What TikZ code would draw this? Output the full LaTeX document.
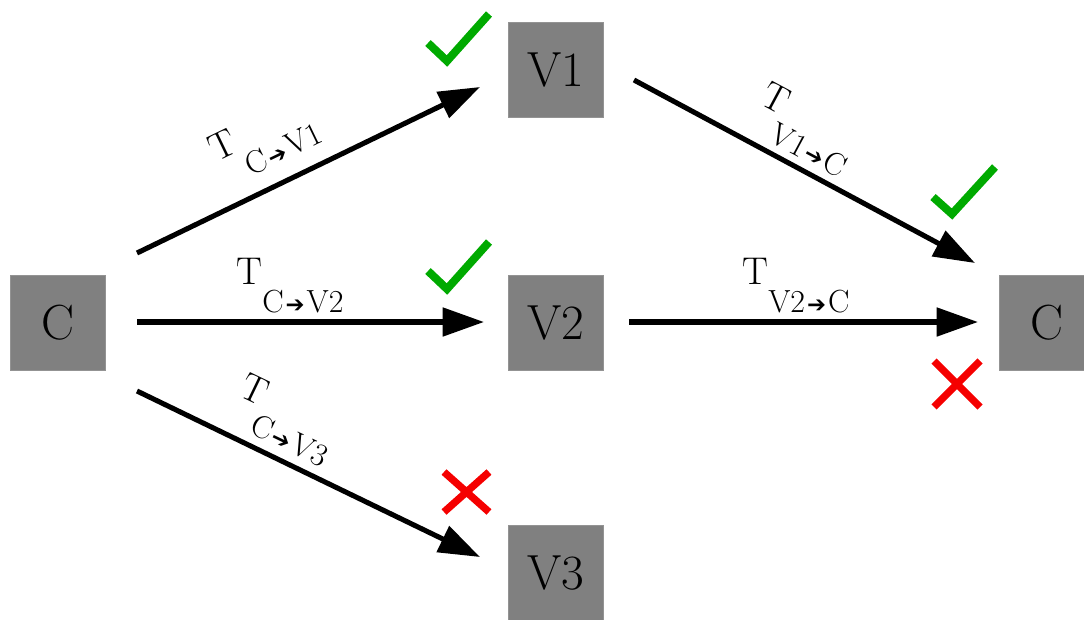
\documentclass[tikz,border=0pt]{standalone}
\usepackage{fontspec}
\newfontfamily\symfont{DejaVu Sans}
\usetikzlibrary{arrows.meta}
\definecolor{boxgray}{RGB}{128,128,128}
\definecolor{okgreen}{RGB}{0,170,0}
\definecolor{badred}{RGB}{245,0,0}
\newcommand\tlab[2]{{\fontsize{29}{29}\selectfont T}\raisebox{-21pt}{\fontsize{24}{24}\selectfont #1\kern1.5pt{\symfont\fontsize{17}{17}\selectfont ➔}\kern1.5pt#2}}
\tikzset{
  box/.style={fill=boxgray, draw=boxgray!85!white, line width=0.5pt, minimum size=71.25pt, inner sep=0pt, font=\fontsize{37}{37}\selectfont},
  conn/.style={line width=3.8pt, -{Triangle[length=31pt,width=21pt]}},
  lbl/.style={inner sep=0pt},
  okmark/.style={draw=okgreen, line width=6pt},
  badmark/.style={draw=badred, line width=5.5pt},
}
\begin{document}
\begin{tikzpicture}[x=0.75pt,y=-0.75pt]
\useasboundingbox (0,0) rectangle (1084,619);
\clip (0,0) rectangle (1084,619);
\node[box] (c1) at (58,323) {C};
\node[box] (v1) at (556,70) {V1};
\node[box] (v2) at (556,323) {V2};
\node[box] (v3) at (556,573) {V3};
\node[box] (c2) at (1047,323) {C};
\coordinate (s1) at (137,253);
\coordinate (e1) at (480,87);
\coordinate (s2) at (137,322);
\coordinate (e2) at (484,322);
\coordinate (s3) at (137,391);
\coordinate (e3) at (480,557);
\coordinate (s4) at (634,80);
\coordinate (e4) at (975,263);
\coordinate (s5) at (629,322);
\coordinate (e5) at (978,322);
\draw[conn] (s1) -- (e1);
\draw[conn] (s2) -- (e2);
\draw[conn] (s3) -- (e3);
\draw[conn] (s4) -- (e4);
\draw[conn] (s5) -- (e5);
\node[lbl, rotate=25.8] (l1) at (265,140) {\tlab{C}{V1}};
\node[lbl] (l2) at (290,286) {\tlab{C}{V2}};
\node[lbl, rotate=-25.7] (l3) at (285,420) {\tlab{C}{V3}};
\node[lbl, rotate=-28.2] (l4) at (805,130) {\tlab{V1}{C}};
\node[lbl] (l5) at (796,286) {\tlab{V2}{C}};
\draw[okmark] (428,43) -- (447,61) -- (489,14);
\draw[okmark] (428,271) -- (447,289) -- (489,242);
\draw[okmark] (933,197) -- (952,214) -- (995,167);
\draw[badmark] (444,472) -- (489,512) (489,472) -- (444,512);
\draw[badmark] (934,361) -- (980,407) (980,361) -- (934,407);
\end{tikzpicture}
\end{document}
